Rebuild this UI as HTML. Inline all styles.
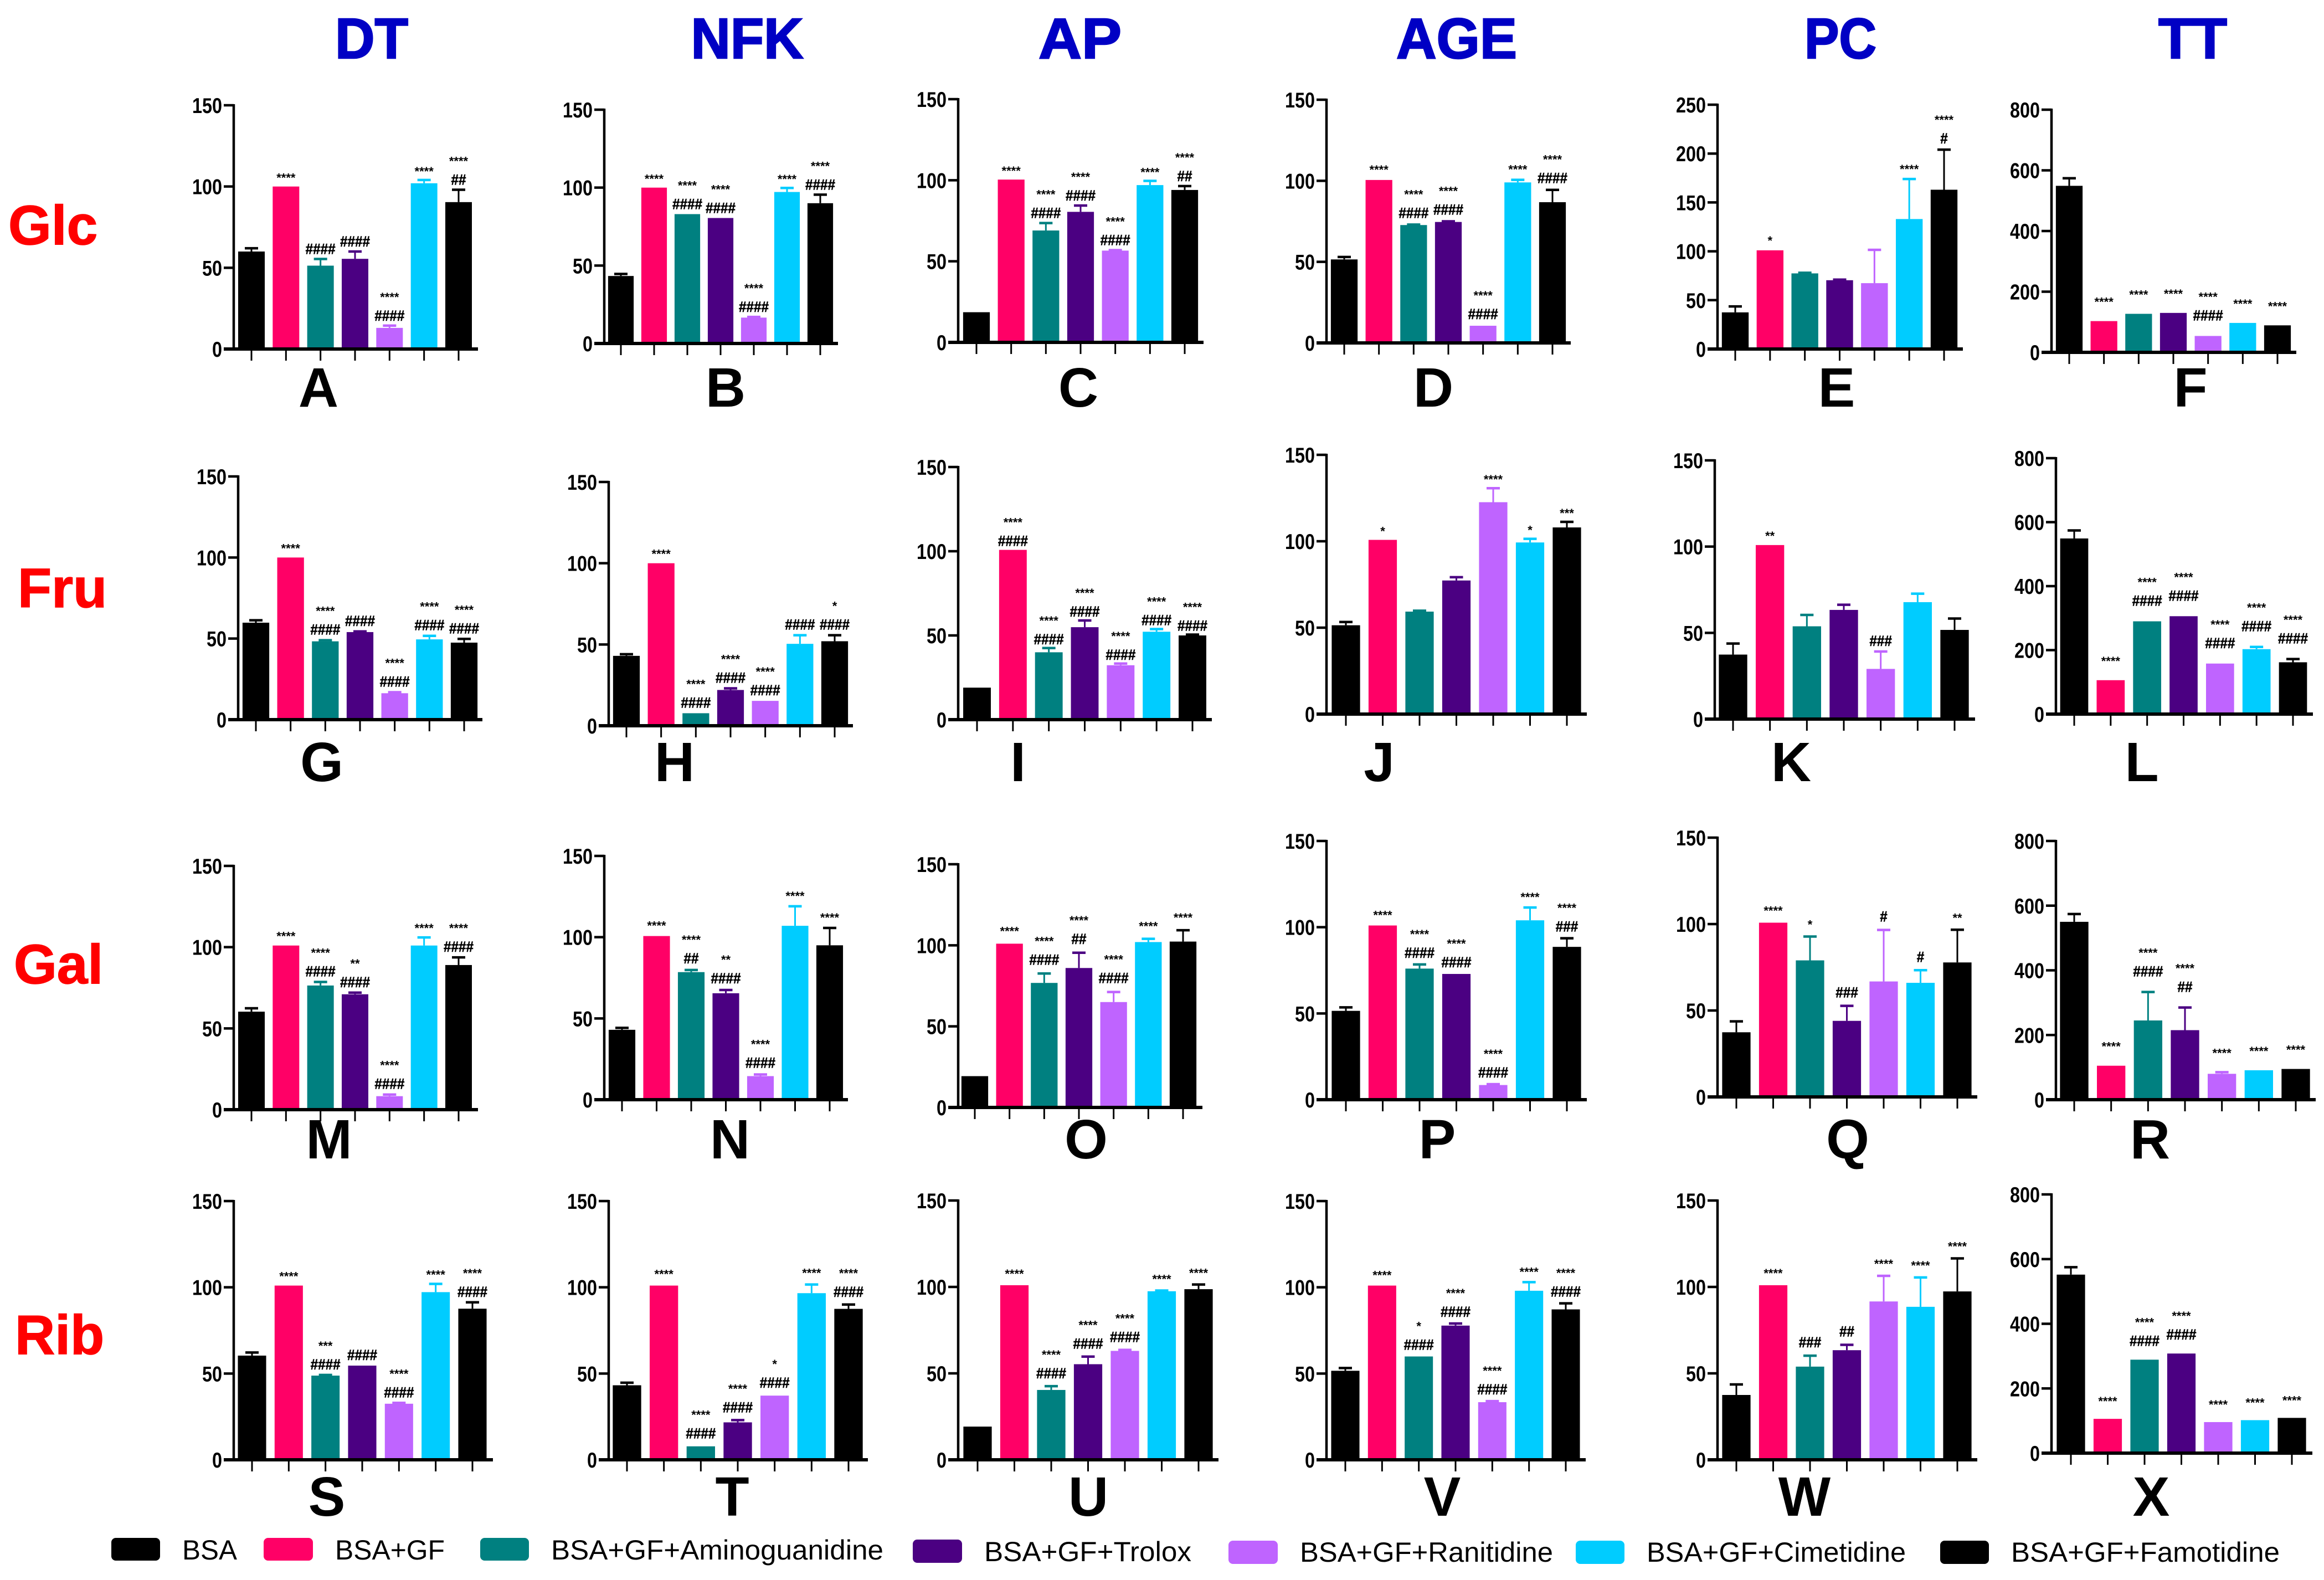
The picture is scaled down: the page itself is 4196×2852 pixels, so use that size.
<!DOCTYPE html>
<html lang="en">
<head>
<meta charset="utf-8">
<title>Bar chart grid: BSA glycation markers</title>
<style>
html,body{margin:0;padding:0;background:#fff;}
svg{display:block;font-family:"Liberation Sans",sans-serif;}
</style>
</head>
<body>
<svg id="figure" xmlns="http://www.w3.org/2000/svg" width="4196" height="2852" viewBox="0 0 4196 2852">
  <rect width="4196" height="2852" fill="#fff"/>
  <g font-weight="bold" font-size="103" fill="#0000c4" stroke="#0000c4" stroke-width="2.5" text-anchor="middle">
    <text x="671" y="105" textLength="132" lengthAdjust="spacingAndGlyphs">DT</text>
    <text x="1349" y="105" textLength="203" lengthAdjust="spacingAndGlyphs">NFK</text>
    <text x="1950" y="105" textLength="150" lengthAdjust="spacingAndGlyphs">AP</text>
    <text x="2630" y="105" textLength="218" lengthAdjust="spacingAndGlyphs">AGE</text>
    <text x="3323" y="105" textLength="130" lengthAdjust="spacingAndGlyphs">PC</text>
    <text x="3959" y="105" textLength="124" lengthAdjust="spacingAndGlyphs">TT</text>
  </g>
  <g font-weight="bold" font-size="100" fill="#ff0000" stroke="#ff0000" stroke-width="1.5">
    <text x="15" y="441">Glc</text>
    <text x="32" y="1096">Fru</text>
    <text x="25" y="1775">Gal</text>
    <text x="27" y="2444">Rib</text>
  </g>
  <g id="panels"></g>
  <g font-size="50" fill="#000" lengthAdjust="spacingAndGlyphs">
    <g>
      <rect x="201" y="2776" width="88" height="41" rx="8" fill="#000"/>
      <text x="329" y="2815" textLength="99" lengthAdjust="spacingAndGlyphs">BSA</text>
    </g>
    <g>
      <rect x="476" y="2776" width="89" height="41" rx="8" fill="#ff0066"/>
      <text x="605" y="2815" textLength="198" lengthAdjust="spacingAndGlyphs">BSA+GF</text>
    </g>
    <g>
      <rect x="867" y="2776" width="88" height="41" rx="8" fill="#008080"/>
      <text x="995" y="2815" textLength="600" lengthAdjust="spacingAndGlyphs">BSA+GF+Aminoguanidine</text>
    </g>
    <g>
      <rect x="1648" y="2779" width="89" height="42" rx="8" fill="#4b0082"/>
      <text x="1777" y="2818" textLength="374" lengthAdjust="spacingAndGlyphs">BSA+GF+Trolox</text>
    </g>
    <g>
      <rect x="2218" y="2781" width="89" height="42" rx="8" fill="#bf64ff"/>
      <text x="2347" y="2819" textLength="457" lengthAdjust="spacingAndGlyphs">BSA+GF+Ranitidine</text>
    </g>
    <g>
      <rect x="2845" y="2781" width="88" height="42" rx="8" fill="#00ccff"/>
      <text x="2973" y="2819" textLength="468" lengthAdjust="spacingAndGlyphs">BSA+GF+Cimetidine</text>
    </g>
    <g>
      <rect x="3503" y="2781" width="88" height="42" rx="8" fill="#000"/>
      <text x="3631" y="2819" textLength="485" lengthAdjust="spacingAndGlyphs">BSA+GF+Famotidine</text>
    </g>
  </g>
</svg>
<script>
// ---- data: one set of small arrays per panel ----
const categories = ['BSA','BSA+GF','BSA+GF+Aminoguanidine','BSA+GF+Trolox','BSA+GF+Ranitidine','BSA+GF+Cimetidine','BSA+GF+Famotidine'];
const ticksPercent = [0,50,100,150];
const ticksPC = [0,50,100,150,200,250];
const ticksTT = [0,200,400,600,800];

const valuesA = [60,100,51.3,55.5,13,102,90.4];
const errorsA = [62,100,55.4,60,14.4,104,98];
const starsA  = ['','****','','','****','****','****'];
const hashesA = ['','','####','####','####','','##'];

const valuesB = [43.3,100,83,80.5,16.6,97.2,90];
const errorsB = [44.6,100,83,80.5,17,99.8,95.5];
const starsB  = ['','****','****','****','****','****','****'];
const hashesB = ['','','####','####','####','','####'];

const valuesC = [18.6,100.4,69,80.5,56.6,97,94];
const errorsC = [18.6,100.4,73.6,84.4,56.9,99.6,96.4];
const starsC  = ['','****','****','****','****','****','****'];
const hashesC = ['','','####','####','####','','##'];

const valuesD = [51.5,100.5,72.7,74.6,10.6,99,86.8];
const errorsD = [53,100.5,73,75,10.6,100.6,94.4];
const starsD  = ['','****','****','****','****','****','****'];
const hashesD = ['','','####','####','####','','####'];

const valuesE = [37.5,101,77.4,70.4,67.4,133,163];
const errorsE = [43.6,101,78,71,101.5,174,204];
const starsE  = ['','*','','','','****','****'];
const hashesE = ['','','','','','','#'];

const valuesF = [549,103,127,130,54,97,89];
const errorsF = [574,103,127,130,54,97,89];
const starsF  = ['','****','****','****','****','****','****'];
const hashesF = ['','','','','####','',''];

const valuesG = [59.8,100,48.3,54,16.3,49.5,47.5];
const errorsG = [61.3,100,49,54.4,16.9,51.7,49.8];
const starsG  = ['','****','****','','****','****','****'];
const hashesG = ['','','####','####','####','####','####'];

const valuesH = [43,100,7.7,22,15.3,50.4,52];
const errorsH = [44,100,7.7,23,15.3,55.7,55.7];
const starsH  = ['','****','****','****','****','','*'];
const hashesH = ['','','####','####','####','####','####'];

const valuesI = [19,100.8,40,54.9,32.3,52.2,50];
const errorsI = [19,100.8,42.5,58.9,33.3,53.8,50.5];
const starsI  = ['','****','****','****','****','****','****'];
const hashesI = ['','####','####','####','####','####','####'];

const valuesJ = [51.4,100.8,59.3,77.3,122.6,99.3,108];
const errorsJ = [53.3,100.8,59.8,79.2,130.7,101.4,111.2];
const starsJ  = ['','*','','','****','*','***'];
const hashesJ = ['','','','','','',''];

const valuesK = [37.4,100.9,53.8,63.3,29.1,67.8,51.7];
const errorsK = [43.8,100.9,60.4,66.3,39.2,72.7,58.3];
const starsK  = ['','**','','','','',''];
const hashesK = ['','','','','###','',''];

const valuesL = [549,106,290,306,158,203,162];
const errorsL = [574,106,290,306,158,210,172];
const starsL  = ['','****','****','****','****','****','****'];
const hashesL = ['','','####','####','####','####','####'];

const valuesM = [60.3,101,76.4,71,8.3,101,89];
const errorsM = [62.4,101,78.6,72,9.3,106,93.7];
const starsM  = ['','****','****','**','****','****','****'];
const hashesM = ['','','####','####','####','','####'];

const valuesN = [43,100.7,78.5,65.5,14.5,107,95];
const errorsN = [44.2,100.7,79.8,67.5,15.5,119,105.7];
const starsN  = ['','****','****','**','****','****','****'];
const hashesN = ['','','##','####','####','',''];

const valuesO = [19.3,101,76.8,86,65,102,102.3];
const errorsO = [19.3,101,82.6,95.4,71.2,104,109.3];
const starsO  = ['','****','****','****','****','****','****'];
const hashesO = ['','','####','##','####','',''];

const valuesP = [51.5,101,76,72.9,8.5,104,88.6];
const errorsP = [53.5,101,78.4,72.9,9,111.4,93.6];
const starsP  = ['','****','****','****','****','****','****'];
const hashesP = ['','','####','####','####','','###'];

const valuesQ = [37.4,100.8,79,44,66.8,66,77.8];
const errorsQ = [43.7,100.8,92.8,52.7,96.6,73.3,96.7];
const starsQ  = ['','****','*','','','','**'];
const hashesQ = ['','','','###','#','#',''];

const valuesR = [550,105,245,215,80,91,95];
const errorsR = [574,105,333,285,85,91,95];
const starsR  = ['','****','****','****','****','****','****'];
const hashesR = ['','','####','##','','',''];

const valuesS = [60.4,101,48.8,54.6,32.5,97.2,87.6];
const errorsS = [62.2,101,49.2,54.6,33,102,91.3];
const starsS  = ['','****','***','','****','****','****'];
const hashesS = ['','','####','####','####','','####'];

const valuesT = [43.2,101,7.8,21.7,37.2,96.6,87.5];
const errorsT = [44.7,101,7.8,23,37.2,101.6,90];
const starsT  = ['','****','****','****','*','****','****'];
const hashesT = ['','','####','####','####','','####'];

const valuesU = [19.2,101,40.4,55.3,63,97.5,98.7];
const errorsU = [19.2,101,42.6,59.7,63.6,97.9,101.4];
const starsU  = ['','****','****','****','****','****','****'];
const hashesU = ['','','####','####','####','',''];

const valuesV = [51.6,101,59.9,77.8,33.4,98,87.2];
const errorsV = [53.2,101,59.9,79,34,103,90.7];
const starsV  = ['','****','*','****','****','****','****'];
const hashesV = ['','','####','####','####','','####'];

const valuesW = [37.5,101,53.9,63.4,91.6,88.5,97.4];
const errorsW = [43.6,101,60.2,66.5,106.4,105.5,116.5];
const starsW  = ['','****','','','****','****','****'];
const hashesW = ['','','###','##','','',''];

const valuesX = [552,106,289,308,96,102,109];
const errorsX = [575,106,289,308,96,102,109];
const starsX  = ['','****','****','****','****','****','****'];
const hashesX = ['','','####','####','','',''];

// ---- panel frames: where each axis box sits on the figure ----
const barColors = ['#000000','#ff0066','#008080','#4b0082','#bf64ff','#00ccff','#000000'];
const panels = [
 {id:'A',v:valuesA,e:errorsA,s:starsA,h:hashesA,t:ticksPercent,ax:422,top:190,y0:630,x0:454,x1:828,end:863,gap:19,lx:575,ly:734},
 {id:'B',v:valuesB,e:errorsB,s:starsB,h:hashesB,t:ticksPercent,ax:1091,top:198,y0:620,x0:1121,x1:1481,end:1513,gap:19,lx:1310,ly:734},
 {id:'C',v:valuesC,e:errorsC,s:starsC,h:hashesC,t:ticksPercent,ax:1730,top:179,y0:618,x0:1763,x1:2139,end:2173,gap:19,lx:1947,ly:734},
 {id:'D',v:valuesD,e:errorsD,s:starsD,h:hashesD,t:ticksPercent,ax:2395,top:180,y0:619,x0:2427,x1:2803,end:2836,gap:22,lx:2588,ly:734},
 {id:'E',v:valuesE,e:errorsE,s:starsE,h:hashesE,t:ticksPC,ax:3101,top:189,y0:630,x0:3133,x1:3510,end:3544,gap:21,lx:3316,ly:734},
 {id:'F',v:valuesF,e:errorsF,s:starsF,h:hashesF,t:ticksTT,ax:3704,top:198,y0:636,x0:3736,x1:4112,end:4146,gap:38,lx:3955,ly:734},
 {id:'G',v:valuesG,e:errorsG,s:starsG,h:hashesG,t:ticksPercent,ax:430,top:860,y0:1299,x0:462,x1:838,end:871,gap:20,lx:581,ly:1410},
 {id:'H',v:valuesH,e:errorsH,s:starsH,h:hashesH,t:ticksPercent,ax:1099,top:870,y0:1310,x0:1131,x1:1507,end:1540,gap:20,lx:1218,ly:1410},
 {id:'I',v:valuesI,e:errorsI,s:starsI,h:hashesI,t:ticksPercent,ax:1730,top:843,y0:1299,x0:1764,x1:2153,end:2188,gap:17,lx:1838,ly:1410},
 {id:'J',v:valuesJ,e:errorsJ,s:starsJ,h:hashesJ,t:ticksPercent,ax:2395,top:821,y0:1289,x0:2430,x1:2829,end:2865,gap:19,lx:2490,ly:1410},
 {id:'K',v:valuesK,e:errorsK,s:starsK,h:hashesK,t:ticksPercent,ax:3096,top:831,y0:1298,x0:3129,x1:3529,end:3566,gap:20,lx:3234,ly:1410},
 {id:'L',v:valuesL,e:errorsL,s:starsL,h:hashesL,t:ticksTT,ax:3712,top:827,y0:1289,x0:3745,x1:4140,end:4176,gap:38,lx:3867,ly:1410},
 {id:'M',v:valuesM,e:errorsM,s:starsM,h:hashesM,t:ticksPercent,ax:422,top:1563,y0:2003,x0:454,x1:828,end:863,gap:20,lx:594,ly:2091},
 {id:'N',v:valuesN,e:errorsN,s:starsN,h:hashesN,t:ticksPercent,ax:1091,top:1545,y0:1985,x0:1123,x1:1498,end:1531,gap:22,lx:1318,ly:2091},
 {id:'O',v:valuesO,e:errorsO,s:starsO,h:hashesO,t:ticksPercent,ax:1730,top:1560,y0:1999,x0:1760,x1:2136,end:2171,gap:26,lx:1961,ly:2091},
 {id:'P',v:valuesP,e:errorsP,s:starsP,h:hashesP,t:ticksPercent,ax:2395,top:1518,y0:1985,x0:2430,x1:2829,end:2865,gap:22,lx:2595,ly:2091},
 {id:'Q',v:valuesQ,e:errorsQ,s:starsQ,h:hashesQ,t:ticksPercent,ax:3101,top:1512,y0:1980,x0:3135,x1:3534,end:3570,gap:25,lx:3336,ly:2091},
 {id:'R',v:valuesR,e:errorsR,s:starsR,h:hashesR,t:ticksTT,ax:3712,top:1518,y0:1985,x0:3745,x1:4145,end:4181,gap:38,lx:3882,ly:2091},
 {id:'S',v:valuesS,e:errorsS,s:starsS,h:hashesS,t:ticksPercent,ax:422,top:2168,y0:2635,x0:455,x1:853,end:890,gap:20,lx:590,ly:2736},
 {id:'T',v:valuesT,e:errorsT,s:starsT,h:hashesT,t:ticksPercent,ax:1099,top:2168,y0:2635,x0:1132,x1:1532,end:1567,gap:24,lx:1322,ly:2736},
 {id:'U',v:valuesU,e:errorsU,s:starsU,h:hashesU,t:ticksPercent,ax:1730,top:2167,y0:2635,x0:1765,x1:2164,end:2200,gap:24,lx:1965,ly:2736},
 {id:'V',v:valuesV,e:errorsV,s:starsV,h:hashesV,t:ticksPercent,ax:2395,top:2168,y0:2635,x0:2429,x1:2827,end:2863,gap:22,lx:2604,ly:2736},
 {id:'W',v:valuesW,e:errorsW,s:starsW,h:hashesW,t:ticksPercent,ax:3101,top:2167,y0:2635,x0:3135,x1:3534,end:3570,gap:25,lx:3258,ly:2736},
 {id:'X',v:valuesX,e:errorsX,s:starsX,h:hashesX,t:ticksTT,ax:3704,top:2156,y0:2623,x0:3739,x1:4138,end:4175,gap:35,lx:3884,ly:2736}
];

const NS = 'http://www.w3.org/2000/svg';
function mk(parent, tag, attrs, text){
  const el = document.createElementNS(NS, tag);
  for (const k in attrs) el.setAttribute(k, attrs[k]);
  if (text !== undefined) el.textContent = text;
  parent.appendChild(el);
  return el;
}

const root = document.getElementById('panels');
panels.forEach(function(p){
  const maxTick = p.t[p.t.length-1];
  const yScale = function(v){ return p.y0 - (v/maxTick)*(p.y0-p.top); };
  const step = (p.x1-p.x0)/(categories.length-1);
  const xScale = function(i){ return p.x0 + i*step; };
  const barW = step*0.77;
  const key = p.id.toLowerCase();

  const g = mk(root,'g',{});
  
  

  // bars and error bars
  categories.forEach(function(cat,i){
    const cx = xScale(i);
    const yv = yScale(p.v[i]);
    const ye = yScale(p.e[i]);
    if (p.e[i] > p.v[i]) {
      const stem = mk(g,'line',{x1:cx,x2:cx,y1:yv,y2:ye,stroke:barColors[i],'stroke-width':3});
      
      
      const cap = mk(g,'line',{x1:cx-12,x2:cx+12,y1:ye,y2:ye,stroke:barColors[i],'stroke-width':4.5});
      
      
    }
    const bar = mk(g,'rect',{x:cx-barW/2,y:yv,width:barW,height:p.y0-yv,fill:barColors[i]});
    
    

    // significance marks stacked above the error bar
    let cy = ye - p.gap;
    if (p.h[i]) {
      const hash = mk(g,'text',{x:cx,y:cy+10,'text-anchor':'middle','font-size':27,'font-weight':'bold',fill:'#000',stroke:'#000','stroke-width':0.6,textLength:p.h[i].length*13.5,lengthAdjust:'spacingAndGlyphs'},p.h[i]);
      
      
      cy -= 36;
    }
    if (p.s[i]) {
      const star = mk(g,'text',{x:cx,y:cy+11,'text-anchor':'middle','font-size':22,'font-weight':'bold',fill:'#000'},p.s[i]);
      
      
    }

    const tick = mk(g,'line',{x1:cx,x2:cx,y1:p.y0,y2:p.y0+21,stroke:'#000','stroke-width':3});
    
    
  });

  // axes
  const yAxis = mk(g,'line',{x1:p.ax,x2:p.ax,y1:p.top-2,y2:p.y0+2,stroke:'#000','stroke-width':4.5});
  
  
  const xAxis = mk(g,'line',{x1:p.ax-18,x2:p.end,y1:p.y0,y2:p.y0,stroke:'#000','stroke-width':6});
  
  

  p.t.forEach(function(t){
    const y = yScale(t);
    const tk = mk(g,'line',{x1:p.ax-18,x2:p.ax,y1:y,y2:y,stroke:'#000','stroke-width':4.5});
    
    
    const s = String(t);
    const lab = mk(g,'text',{x:p.ax-21,y:y+14,'text-anchor':'end','font-size':39,'font-weight':'bold',fill:'#000',textLength:s.length*18,lengthAdjust:'spacingAndGlyphs'},s);
    
    
  });

  const letter = mk(g,'text',{x:p.lx,y:p.ly,'text-anchor':'middle','font-size':100,'font-weight':'bold',fill:'#000'},p.id);
  
  
});
</script>
</body>
</html>
